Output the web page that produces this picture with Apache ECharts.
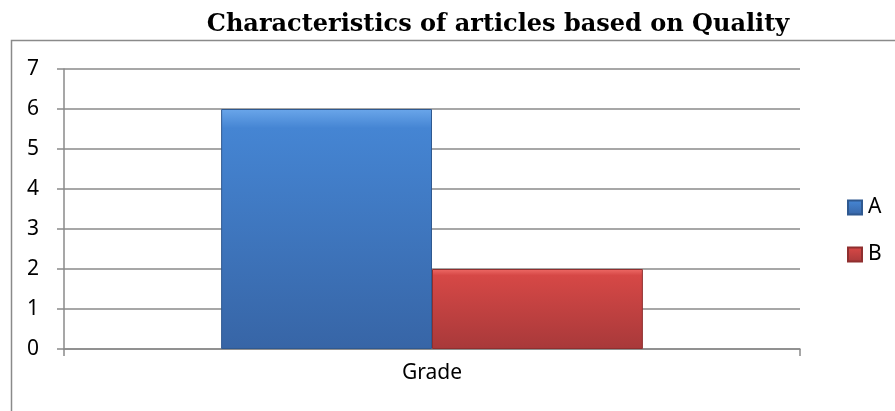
<!DOCTYPE html>
<html>
<head>
<meta charset="utf-8">
<script src="https://cdn.jsdelivr.net/npm/echarts@6/dist/echarts.min.js"></script>
<style>
  html, body { margin: 0; padding: 0; background: #fff; }
  #chart { width: 895px; height: 411px; }
</style>
</head>
<body>
<div id="chart"></div>
<script>
const categories = ['Grade']
const seriesNames = ['A', 'B']
const valuesA = [6]
const valuesB = [2]
const yTicks = [0, 1, 2, 3, 4, 5, 6, 7]

const grad = (top, mid, bottom) => new echarts.graphic.LinearGradient(0, 0, 0, 1, [
  { offset: 0, color: top }, { offset: 0.08, color: mid }, { offset: 1, color: bottom }
])
const blue = grad('#6aa6ea', '#4585d3', '#3765a6')
const red = grad('#ee6a66', '#d64846', '#a8393a')

const c = echarts.init(document.getElementById('chart'))
c.setOption({
  animation: false,
  title: {
    text: 'Characteristics of articles based on Quality',
    left: 493, top: 8, textAlign: 'center',
    textStyle: { fontFamily: 'DejaVu Serif', fontWeight: 'bold', fontSize: 24, color: '#000' }
  },
  graphic: [{
    type: 'rect', left: 9, top: 38, silent: true,
    shape: { width: 900, height: 400 },
    style: { fill: 'none', stroke: '#8a8a8a', lineWidth: 1.5 }
  }],
  legend: {
    orient: 'vertical', left: 842, top: 192,
    itemWidth: 14, itemHeight: 14, itemGap: 26,
    icon: 'rect',
    textStyle: { fontFamily: 'Noto Sans', fontSize: 21, color: '#000', padding: [0, 0, 0, 1] },
    data: seriesNames
  },
  grid: { left: 64, right: 95, top: 69, bottom: 62 },
  xAxis: {
    type: 'category', data: categories,
    axisLine: { lineStyle: { color: '#8a8a8a', width: 1.5 } },
    axisTick: { show: true, length: 7, lineStyle: { color: '#8a8a8a', width: 1.5 } },
    axisLabel: { fontFamily: 'Noto Sans', fontSize: 21, color: '#000', margin: 14 }
  },
  yAxis: {
    type: 'value', min: yTicks[0], max: yTicks[yTicks.length - 1], interval: 1,
    axisLine: { show: true, lineStyle: { color: '#8a8a8a', width: 1.5 } },
    axisTick: { show: true, length: 7, lineStyle: { color: '#8a8a8a', width: 1.5 } },
    splitLine: { lineStyle: { color: '#8a8a8a', width: 1.5 } },
    axisLabel: { fontFamily: 'Noto Sans', fontSize: 21, color: '#000', margin: 25 }
  },
  series: [
    {
      name: seriesNames[0], type: 'bar', data: valuesA,
      barGap: 0, barCategoryGap: '42.7%',
      itemStyle: { color: blue, borderColor: '#2f5990', borderWidth: 1 }
    },
    {
      name: seriesNames[1], type: 'bar', data: valuesB,
      itemStyle: { color: red, borderColor: '#8f2f2f', borderWidth: 1 }
    }
  ]
})
window.addEventListener('resize', () => c.resize())
</script>
</body>
</html>
